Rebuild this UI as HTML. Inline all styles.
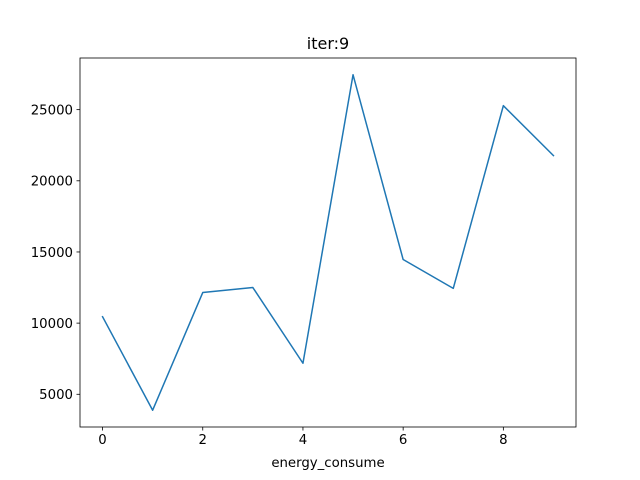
<!DOCTYPE html>
<html><head><meta charset="utf-8"><style>
body{margin:0;background:#fff}
svg{display:block;font-family:"DejaVu Sans","Liberation Sans",sans-serif}
</style></head><body>
<svg id="chart" width="640" height="480"></svg>
<script>
const xValues=[0,1,2,3,4,5,6,7,8,9];
const yValues=[10450,3880,12150,12500,7180,27450,14470,12440,25280,21770];
const xTicks=[0,2,4,6,8];
const yTicks=[5000,10000,15000,20000,25000];
const L=80,R=576,T=58,B=427;
const xmin=-0.45,xmax=9.45;
const dmin=Math.min(...yValues),dmax=Math.max(...yValues),pad=(dmax-dmin)*0.05;
const ymin=dmin-pad,ymax=dmax+pad;
const sx=v=>L+(v-xmin)/(xmax-xmin)*(R-L);
const sy=v=>B-(v-ymin)/(ymax-ymin)*(B-T);
const NS="http://www.w3.org/2000/svg";
const svg=document.getElementById('chart');
function mk(t,a,txt){const e=document.createElementNS(NS,t);for(const k in a)e.setAttribute(k,a[k]);if(txt!==undefined)e.textContent=txt;svg.appendChild(e);return e;}
const pts=xValues.map((x,i)=>sx(x).toFixed(2)+','+sy(yValues[i]).toFixed(2)).join(' ');
const line=mk('polyline',{points:pts,fill:'none',stroke:'#1f77b4','stroke-width':1.5,'stroke-linejoin':'round','stroke-linecap':'square'});


const frame=mk('rect',{x:L,y:T,width:R-L,height:B-T,fill:'none',stroke:'#000','stroke-width':0.8});


xTicks.forEach(v=>{
  const x=sx(v);
  const tk=mk('line',{x1:x,x2:x,y1:B,y2:B+3.5,stroke:'#000','stroke-width':0.8});
  
  
  const lb=mk('text',{x:x,y:B+17,'text-anchor':'middle','font-size':'13.3px'},String(v));
  
  
});
yTicks.forEach(v=>{
  const y=sy(v);
  const tk=mk('line',{x1:L-3.5,x2:L,y1:y,y2:y,stroke:'#000','stroke-width':0.8});
  
  
  const lb=mk('text',{x:L-7,y:y+4.8,'text-anchor':'end','font-size':'13.3px'},String(v));
  
  
});
const title=mk('text',{x:(L+R)/2,y:T-9,'text-anchor':'middle','font-size':'16px'},'iter:9');


const xl=mk('text',{x:(L+R)/2,y:467,'text-anchor':'middle','font-size':'13.3px'},'energy_consume');


</script>
</body></html>
